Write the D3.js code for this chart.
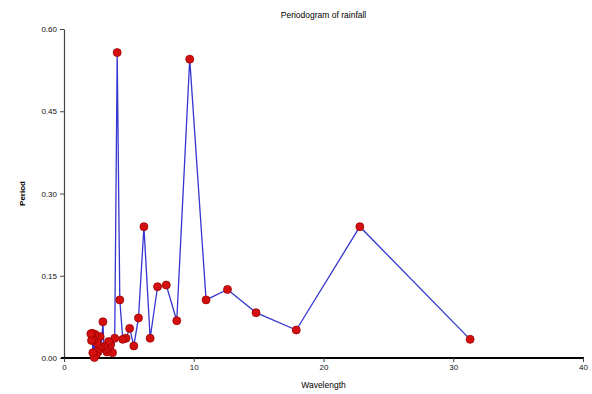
<!DOCTYPE html>
<html>
<head>
<meta charset="utf-8">
<script src="https://cdn.jsdelivr.net/npm/d3@7"></script>
<style>
  html, body { margin: 0; padding: 0; background: #fff; }
  svg { display: block; }
  text { font-family: "Liberation Sans", Arial, sans-serif; }
</style>
</head>
<body>
<svg id="chart" width="592" height="394"></svg>
<script>
// Data
const wavelengths = [31.3, 22.8, 17.9, 14.8, 12.6, 10.95, 9.69, 8.69, 7.88, 7.21,
  6.64, 6.16, 5.74, 5.38, 5.06, 4.78, 4.53, 4.30, 4.10, 3.91,
  3.74, 3.59, 3.44, 3.31, 3.19, 3.08, 3.00, 2.87, 2.78, 2.70,
  2.62, 2.54, 2.47, 2.40, 2.34, 2.28, 2.22, 2.17, 2.12, 2.07];
const periodValues = [0.034, 0.2395, 0.051, 0.0826, 0.125, 0.106, 0.545, 0.068, 0.133, 0.130,
  0.036, 0.2395, 0.073, 0.022, 0.054, 0.036, 0.034, 0.106, 0.557, 0.036,
  0.0097, 0.024, 0.030, 0.011, 0.016, 0.021, 0.066, 0.020, 0.039, 0.018,
  0.011, 0.028, 0.0055, 0.043, 0.001, 0.033, 0.0097, 0.045, 0.032, 0.044];
const xTicks = [0, 10, 20, 30, 40];
const yTicks = [0, 0.15, 0.30, 0.45, 0.60];
const titleText = "Periodogram of rainfall";
const xLabel = "Wavelength";
const yLabel = "Period";

const data = wavelengths.map((w, i) => ({ w, v: periodValues[i] }));

const svg = d3.select("#chart");
const x = d3.scaleLinear().domain([0, 40]).range([64, 583]);
const y = d3.scaleLinear().domain([0, 0.6]).range([358, 29]);

// Y axis
const yAxis = svg.append("g")
  .attr("transform", `translate(${x(0)},0)`)
  .call(d3.axisLeft(y).tickValues(yTicks).tickFormat(d3.format(".2f")).tickSize(4).tickSizeOuter(0).tickPadding(3));
yAxis.select(".domain").attr("stroke", "#444").attr("stroke-width", 1.2);
yAxis.selectAll(".tick line").attr("stroke", "#444");
yAxis.selectAll("text").attr("font-size", 8).attr("fill", "#111");

// X axis
const xAxis = svg.append("g")
  .attr("transform", `translate(0,${y(0)})`)
  .call(d3.axisBottom(x).tickValues(xTicks).tickFormat(d3.format("d")).tickSize(4).tickSizeOuter(0).tickPadding(2));
xAxis.select(".domain").attr("stroke", "#000").attr("stroke-width", 2)
  .attr("d", `M${x(0) - 3},0H${x(40) + 1}`);
xAxis.selectAll(".tick line").attr("stroke", "#444");
xAxis.selectAll("text").attr("font-size", 8).attr("fill", "#111");

// Line
const line = d3.line().x(d => x(d.w)).y(d => y(d.v));
svg.append("path")
  .datum(data)
  .attr("fill", "none")
  .attr("stroke", "#3535d0")
  .attr("stroke-width", 1.3)
  .attr("d", line);

// Points
svg.append("g").selectAll("circle")
  .data(data)
  .join("circle")
  .attr("cx", d => x(d.w))
  .attr("cy", d => y(d.v))
  .attr("r", 4)
  .attr("fill", "#d40f0f")
  .attr("stroke", "#a00000")
  .attr("stroke-width", 0.8);

// Title
svg.append("text")
  .attr("x", (x(0) + x(40)) / 2)
  .attr("y", 18)
  .attr("text-anchor", "middle")
  .attr("font-size", 8.5)
  .attr("fill", "#000")
  .text(titleText);

// X label
svg.append("text")
  .attr("x", (x(0) + x(40)) / 2)
  .attr("y", 388)
  .attr("text-anchor", "middle")
  .attr("font-size", 8.5)
  .attr("fill", "#000")
  .text(xLabel);

// Y label
svg.append("text")
  .attr("transform", `translate(25,${(y(0) + y(0.6)) / 2}) rotate(-90)`)
  .attr("text-anchor", "middle")
  .attr("font-size", 8)
  .attr("font-weight", "bold")
  .attr("fill", "#000")
  .text(yLabel);
</script>
</body>
</html>
